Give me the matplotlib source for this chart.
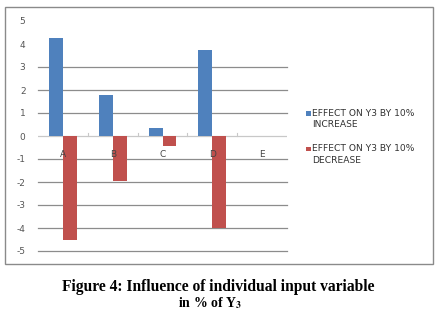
import matplotlib
matplotlib.use("Agg")
import matplotlib.pyplot as plt
from matplotlib.patches import Rectangle

categories = ["A", "B", "C", "D", "E"]
increase = [4.25, 1.78, 0.36, 3.74, 0.0]
decrease = [-4.5, -1.94, -0.42, -4.0, 0.0]
series_names = ["EFFECT ON Y3 BY 10%\nINCREASE", "EFFECT ON Y3 BY 10%\nDECREASE"]
yticks = [-5, -4, -3, -2, -1, 0, 1, 2, 3, 4, 5]
ytick_labels = ["-5", "-4", "-3", "-2", "-1", "0", "1", "2", "3", "4", "5"]
grid_levels = [-5, -4, -3, -2, -1, 1, 2, 3]

W, H = 440, 310
fig = plt.figure(figsize=(W / 100, H / 100), dpi=100)
fig.patch.set_facecolor("white")

# outer chart border
fig.patches.append(Rectangle((4.5 / W, 1 - 264 / H), (433 - 4.5) / W, (264 - 7) / H,
                             transform=fig.transFigure, fill=False,
                             edgecolor="#8a8a8a", linewidth=1.0))

ax = fig.add_axes([38 / W, 1 - 251 / H, (287 - 38) / W, (251 - 21) / H])
ax.set_xlim(-0.5, 4.5)
ax.set_ylim(-5, 5)

x = list(range(len(categories)))
bw = 0.28
blue = "#4F81BD"
red = "#C0504D"
ax.bar([i - bw / 2 for i in x], increase, width=bw, color=blue, zorder=3)
ax.bar([i + bw / 2 for i in x], decrease, width=bw, color=red, zorder=3)

for g in grid_levels:
    ax.axhline(g, color="#8c8c8c", linewidth=0.9, zorder=1, clip_on=False)
ax.axhline(0, color="#c8c8c8", linewidth=0.9, zorder=2)

for s in ax.spines.values():
    s.set_visible(False)

ax.set_yticks(yticks)
ax.set_yticklabels(ytick_labels)
ax.tick_params(axis="y", length=0, pad=9, labelsize=6.5, labelcolor="#555555")
ax.set_xticks([])

# category boundary ticks on zero line
for b in [0.5, 1.5, 2.5, 3.5]:
    ax.plot([b, b], [0, 0.12], color="#c8c8c8", linewidth=0.8, zorder=2)

for i, c in enumerate(categories):
    ax.text(i, -0.82, c, ha="center", va="center", fontsize=6.5, color="#444444")

# legend (squares aligned with the first text line, as in the original)
colors = [blue, red]
first_line_y = [113.3, 149.0]
for name, col, yl in zip(series_names, colors, first_line_y):
    fig.patches.append(Rectangle((306 / W, 1 - (yl + 2.4) / H), 4.8 / W, 4.8 / H,
                                 transform=fig.transFigure, facecolor=col,
                                 edgecolor="none"))
    fig.text(312 / W, 1 - (yl - 4.5) / H, name, ha="left", va="top",
             fontsize=6.6, color="#333333", linespacing=1.35)

plt.rcParams["mathtext.fontset"] = "stix"
fig.text(218 / W, 1 - 287 / H, "Figure 4: Influence of individual input variable",
         ha="center", va="center", fontsize=11.2, fontweight="bold",
         family="Liberation Serif")
fig.text(210 / W, 1 - 303 / H, r"in % of Y$_{\mathbf{3}}$",
         ha="center", va="center", fontsize=10, fontweight="bold",
         family="Liberation Serif")

fig.savefig("out.png", dpi=100)
